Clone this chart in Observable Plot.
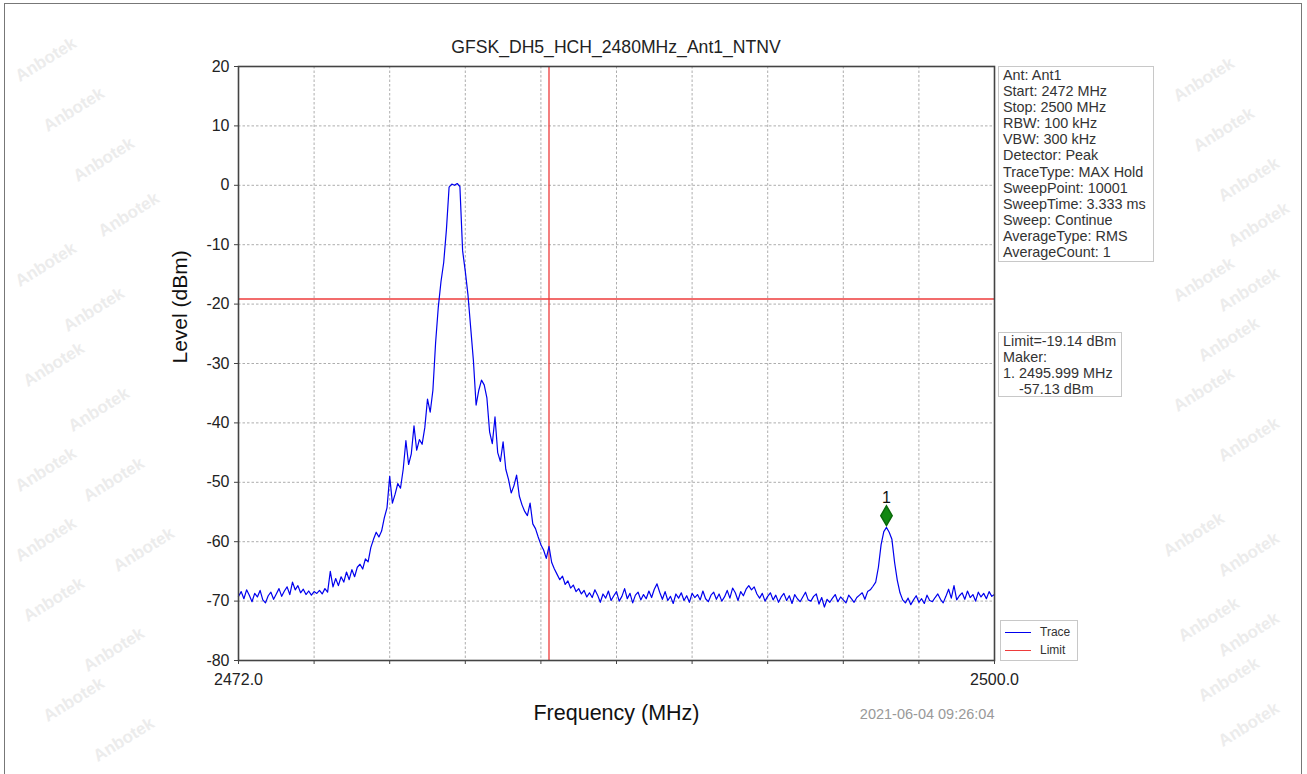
<!DOCTYPE html>
<html><head><meta charset="utf-8">
<script src="https://cdn.jsdelivr.net/npm/d3@7"></script>
<script src="https://cdn.jsdelivr.net/npm/@observablehq/plot@0.6"></script>
<style>
body{margin:0;background:#fff;font-family:"Liberation Sans",Arial,sans-serif;}
#wrap{position:relative;width:1307px;height:774px;overflow:hidden;background:#fff;}
#border{position:absolute;left:4px;top:3px;width:1298px;height:780px;border:1px solid #777;box-sizing:border-box;}
#title{position:absolute;left:266px;width:700px;top:37px;text-align:center;font-size:17.6px;color:#222;}
#chart{position:absolute;left:0;top:0;}
.box{position:absolute;background:#fff;border:1px solid #c8c8c8;font-size:14.4px;color:#333;line-height:16.1px;padding:0 4px;box-sizing:border-box;white-space:pre;overflow:hidden;}
.wm{position:absolute;color:#ececec;font-size:17px;transform:rotate(-32deg);font-weight:bold;}
.legrow{height:18px;line-height:18px;white-space:nowrap;}
.legrow i{display:inline-block;width:26px;height:0;vertical-align:middle;margin-right:9px;}
</style></head>
<body><div id="wrap"><div id="border"></div></div>
<script>
const titleText = "GFSK_DH5_HCH_2480MHz_Ant1_NTNV";
const sweepStart = 2472, sweepStop = 2500;
const yTicks = [-80, -70, -60, -50, -40, -30, -20, -10, 0, 10, 20];
const xTicks = [2472, 2474.8, 2477.6, 2480.4, 2483.2, 2486, 2488.8, 2491.6, 2494.4, 2497.2, 2500];
const xLabelled = [2472, 2500];
const limitLevel = -19.14;
const bandEdge = 2483.5;
const markerFreq = [2495.999];
const markerLevel = [-57.13];
const markerLabel = ["1"];
const stampText = "2021-06-04 09:26:04";
const infoLines = ["Ant: Ant1","Start: 2472 MHz","Stop: 2500 MHz","RBW: 100 kHz","VBW: 300 kHz","Detector: Peak","TraceType: MAX Hold","SweepPoint: 10001","SweepTime: 3.333 ms","Sweep: Continue","AverageType: RMS","AverageCount: 1"];
const limitLines = ["Limit=-19.14 dBm","Maker:","1. 2495.999 MHz","    -57.13 dBm"];
const legendNames = ["Trace", "Limit"];
// trace levels (dBm), one every 0.1 MHz from 2472.0 to 2500.0
const levels = [
-69.2,-68.4,-69.6,-68.1,-69.0,-70.1,-68.7,-69.3,-68.2,-69.8,
-70.3,-69.1,-68.5,-69.7,-68.8,-67.9,-69.2,-68.3,-67.6,-68.9,
-66.8,-68.1,-67.4,-68.6,-68.0,-68.9,-68.3,-69.0,-68.4,-68.7,
-68.2,-68.8,-67.9,-68.5,-65.0,-67.6,-66.2,-67.4,-65.9,-66.8,
-65.1,-66.4,-64.7,-65.9,-64.3,-63.8,-64.6,-62.9,-63.4,-61.0,
-59.6,-58.4,-59.2,-58.2,-56.0,-54.3,-49.0,-53.5,-52.0,-50.2,
-51.0,-47.8,-43.0,-47.0,-45.2,-40.5,-44.6,-42.8,-43.6,-40.8,
-36.0,-38.2,-34.5,-26.5,-20.5,-16.2,-13.0,-7.5,-0.3,0.2,
0.0,0.3,-0.2,-11.0,-14.5,-18.5,-24.0,-29.5,-37.0,-34.5,
-32.8,-33.6,-35.8,-41.5,-43.5,-39.0,-45.0,-46.5,-43.2,-47.8,
-49.5,-51.8,-50.6,-48.8,-52.3,-53.8,-54.9,-55.6,-53.5,-57.0,
-57.8,-59.2,-60.5,-61.4,-62.8,-60.8,-63.5,-64.6,-65.5,-66.4,
-65.8,-67.2,-66.6,-67.8,-67.3,-68.4,-67.9,-68.8,-68.2,-69.3,
-68.6,-69.4,-68.1,-69.0,-70.2,-68.8,-69.5,-68.3,-69.9,-69.1,
-68.4,-70.0,-69.2,-67.9,-69.6,-68.7,-70.3,-69.0,-68.5,-69.8,
-68.9,-69.6,-68.3,-69.4,-68.0,-67.1,-68.5,-69.7,-68.4,-69.9,
-69.2,-70.4,-68.8,-69.5,-68.6,-69.9,-69.1,-70.2,-68.7,-69.4,
-68.9,-69.8,-68.3,-69.6,-70.1,-69.0,-68.5,-69.7,-68.8,-70.0,
-69.3,-68.2,-69.5,-67.8,-68.6,-69.9,-68.4,-69.1,-68.0,-67.4,
-68.1,-67.6,-68.8,-69.5,-68.7,-70.0,-69.2,-68.6,-69.8,-69.0,
-70.2,-69.3,-68.7,-69.9,-69.1,-70.4,-68.9,-69.6,-70.1,-69.3,
-68.5,-69.8,-70.0,-69.2,-68.8,-70.5,-69.4,-71.0,-69.7,-70.2,
-69.5,-68.9,-70.1,-69.3,-69.8,-70.3,-69.0,-69.6,-70.2,-69.4,
-69.0,-68.6,-69.7,-68.4,-68.1,-67.5,-66.8,-64.3,-60.5,-58.3,
-57.6,-58.4,-59.6,-63.5,-66.5,-68.6,-69.8,-70.3,-69.5,-70.6,
-69.8,-69.1,-70.2,-69.6,-70.4,-69.0,-69.9,-70.1,-69.4,-68.8,
-69.7,-70.3,-69.2,-68.0,-69.5,-67.4,-69.8,-69.1,-68.6,-69.7,
-68.3,-69.4,-68.9,-70.0,-68.5,-69.3,-68.7,-69.6,-68.4,-69.2,
-68.9
];

const step = (sweepStop - sweepStart) / (levels.length - 1);
const trace = levels.map((v, i) => ({f: sweepStart + i * step, level: v}));
const markers = markerFreq.map((f, i) => ({f, level: markerLevel[i], label: markerLabel[i]}));

const RED = "#ee3b3b", BLUE = "#0000ee";
const legendColors = [BLUE, RED];
const font = '"Liberation Sans", Arial, sans-serif';

const chart = Plot.plot({
  width: 1307, height: 774,
  marginLeft: 238, marginRight: 313, marginTop: 66, marginBottom: 114,
  x: {domain: [sweepStart, sweepStop]},
  y: {domain: [-80, 20]},
  style: {fontFamily: font, fontSize: "16px", color: "#222", background: "transparent", overflow: "visible"},
  marks: [
    Plot.gridX(xTicks, {stroke: "#999", strokeOpacity: 0.8, strokeDasharray: "2.5,2"}),
    Plot.gridY(yTicks, {stroke: "#999", strokeOpacity: 0.8, strokeDasharray: "2.5,2"}),
    Plot.ruleY([limitLevel], {stroke: RED, strokeWidth: 1.3}),
    Plot.ruleX([bandEdge], {stroke: RED, strokeWidth: 1.3}),
    Plot.line(trace, {x: "f", y: "level", stroke: BLUE, strokeWidth: 1.2}),
    Plot.dot(markers, {x: "f", y: "level", symbol: "diamond", r: 6, fill: "#118811", stroke: "#0a6a0a", dy: -9}),
    Plot.text(markers, {x: "f", y: "level", text: "label", dy: -27, fontSize: 16, fill: "#111"}),
    Plot.axisY(yTicks, {tickSize: 4, tickPadding: 5, label: null, fontSize: 16, stroke: "#444", tickFormat: d => String(d)}),
    Plot.axisX(xTicks, {tickSize: 4, tickPadding: 9, label: null, fontSize: 16, stroke: "#444",
      tickFormat: d => xLabelled.includes(d) ? d.toFixed(1) : ""}),
    Plot.frame({stroke: "#444", strokeWidth: 1.6}),
    Plot.text(["Level (dBm)"], {frameAnchor: "left", rotate: -90, dx: -58, fontSize: 21, fill: "#111"}),
    Plot.text(["Frequency (MHz)"], {frameAnchor: "bottom", dy: 59, fontSize: 21.5, fill: "#111"}),
    Plot.text([stampText], {frameAnchor: "bottom-right", dy: 58, textAnchor: "end", fontSize: 14.5, fill: "#999"})
  ]
});

const wrap = document.getElementById("wrap");
chart.id = "chart";
wrap.appendChild(chart);

const t = document.createElement("div");
t.id = "title"; t.textContent = titleText; wrap.appendChild(t);

function box(lines, left, top, w, h) {
  const b = document.createElement("div");
  b.className = "box";
  b.style.left = left + "px"; b.style.top = top + "px";
  b.style.width = w + "px"; b.style.height = h + "px";
  b.textContent = lines.join("\n");
  wrap.appendChild(b);
  return b;
}
box(infoLines, 998, 66, 156, 196);
box(limitLines, 998, 332, 124, 65);

const leg = box([], 1000, 620, 78, 41);
leg.style.fontSize = "12px"; leg.style.padding = "2px 4px";
legendNames.forEach((name, i) => {
  const row = document.createElement("div");
  row.className = "legrow";
  const sw = document.createElement("i");
  sw.style.borderTop = "1.6px solid " + legendColors[i];
  row.appendChild(sw);
  row.appendChild(document.createTextNode(name));
  leg.appendChild(row);
});

// faint watermark text
const wmPos = [[12,50],[40,100],[70,150],[95,205],[12,255],[60,300],[20,355],[65,400],[12,460],[80,470],[12,530],[110,540],[20,590],[80,640],[40,690],[90,730],
  [1170,70],[1190,120],[1215,170],[1225,215],[1170,270],[1215,280],[1195,330],[1170,380],[1215,430],[1160,525],[1215,545],[1175,610],[1215,625],[1195,670],[1215,715]];
wmPos.forEach(([x, y]) => {
  const s = document.createElement("span");
  s.className = "wm"; s.textContent = "Anbotek";
  s.style.left = x + "px"; s.style.top = y + "px";
  wrap.insertBefore(s, wrap.firstChild);
});
</script>
</body></html>
